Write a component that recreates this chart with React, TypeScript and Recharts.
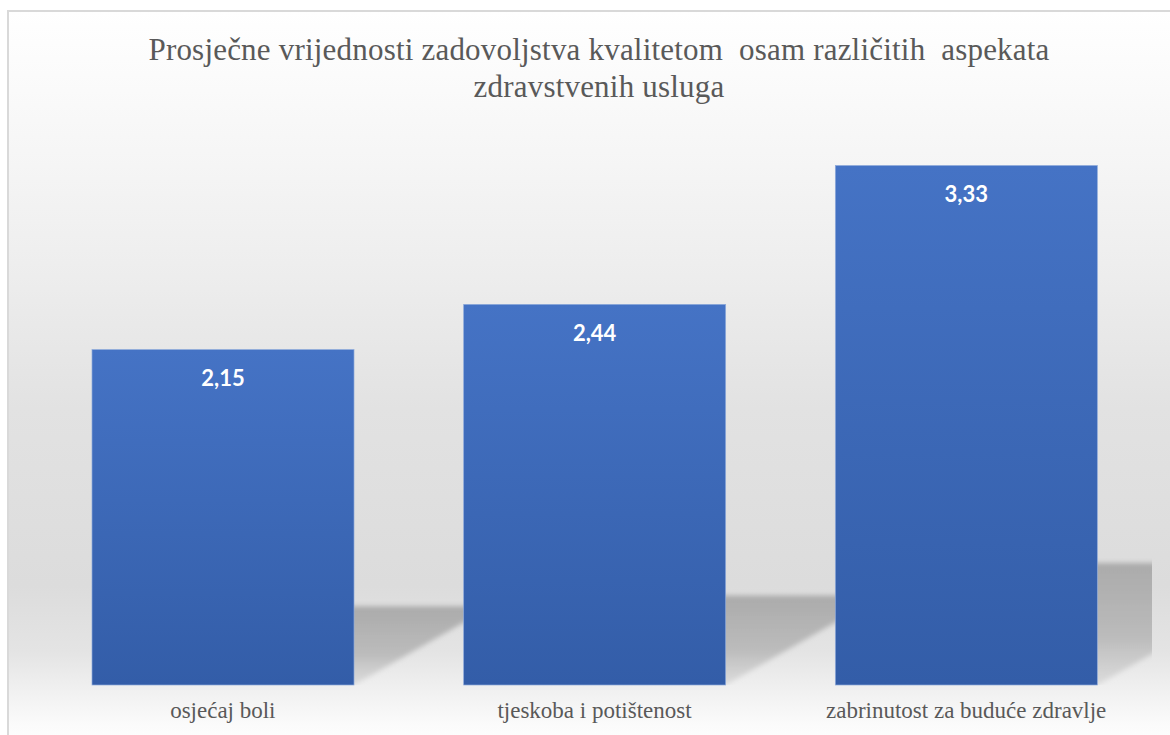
import React from 'react';
import { BarChart, Bar, XAxis, YAxis, LabelList } from 'recharts';

// Data
const categories = ['osjećaj boli', 'tjeskoba i potištenost', 'zabrinutost za buduće zdravlje'];
const values = [2.15, 2.44, 3.33];
const titleLines = ['Prosječne vrijednosti zadovoljstva kvalitetom  osam različitih  aspekata', 'zdravstvenih usluga'];

const data = categories.map((name, i) => ({ name, value: values[i] }));

const W = 1170;
const H = 735;
const MARGIN = { top: 139, right: 18, bottom: 20, left: 37 };
const SERIF = '"Liberation Serif", Tinos, "Times New Roman", Times, "Noto Serif", "DejaVu Serif", FreeSerif, serif';

// bar with a soft "floor" shadow falling to the right
const ShadowBar = (props: any) => {
  const { x, y, width, height } = props;
  const base = y + height;
  const dy = height * 0.235;
  const dx = dy / 0.57;
  const pts = [
    [x, base],
    [x + width, base],
    [x + width + dx, base - dy],
    [x + dx, base - dy],
  ].map((p) => p.join(',')).join(' ');
  return (
    <g>
      <g clipPath="url(#plotClip)">
        <polygon points={pts} fill="url(#shadowGrad)" filter="url(#blurShadow)" />
      </g>
      <rect x={x} y={y} width={width} height={height} fill="url(#barGrad)" stroke="#8eaadb" strokeWidth={0.7} />
    </g>
  );
};

const AxisTick = (props: any) => {
  const { x, y, payload } = props;
  return (
    <text x={x} y={y} dy={25} textAnchor="middle" fill="#595959" style={{ fontFamily: SERIF, fontSize: 23 }}>
      {payload.value}
    </text>
  );
};

export default function App() {
  return (
    <div style={{ position: 'absolute', left: 0, top: 0, width: W, height: H, overflow: 'hidden', background: '#fff' }}>
      <div style={{
        position: 'absolute', left: 7, top: 10, width: W, height: H,
        borderLeft: '2px solid #d9d9d9', borderTop: '2px solid #d9d9d9',
        background: 'linear-gradient(to bottom, #ffffff 0%, #f6f6f6 19%, #ededed 36%, #e2e2e2 54%, #dcdcdc 78%, #e4e4e4 87%, #f2f2f2 93%, #fbfbfb 97%, #fefefe 100%)',
      }} />
      <div style={{
        position: 'absolute', left: 28, top: 31, width: 1142, textAlign: 'center',
        fontFamily: SERIF, fontSize: 31, lineHeight: '37px', letterSpacing: 0.2,
        color: '#595959', whiteSpace: 'pre',
      }}>
        {titleLines.map((t, i) => <div key={i}>{t}</div>)}
      </div>
      <div style={{ position: 'absolute', left: 0, top: 0 }}>
        <BarChart width={W} height={H} data={data} margin={MARGIN} barSize={262}>
          <defs>
            <linearGradient id="barGrad" x1="0" y1="0" x2="0" y2="1">
              <stop offset="0%" stopColor="#4573c5" />
              <stop offset="100%" stopColor="#335da8" />
            </linearGradient>
            <linearGradient id="shadowGrad" x1="0" y1="0" x2="0" y2="1">
              <stop offset="0%" stopColor="#a8a8a8" stopOpacity={0.95} />
              <stop offset="60%" stopColor="#b4b4b4" stopOpacity={0.85} />
              <stop offset="100%" stopColor="#cfcfcf" stopOpacity={0.6} />
            </linearGradient>
            <filter id="blurShadow" x="-20%" y="-20%" width="140%" height="140%">
              <feGaussianBlur stdDeviation="2.5" />
            </filter>
            <clipPath id="plotClip">
              <rect x={MARGIN.left} y={0} width={W - MARGIN.left - MARGIN.right} height={H - MARGIN.bottom - 30} />
            </clipPath>
          </defs>
          <XAxis dataKey="name" height={30} axisLine={false} tickLine={false} tick={<AxisTick />} interval={0} />
          <YAxis hide domain={[0, 3.5]} />
          <Bar dataKey="value" shape={<ShadowBar />} isAnimationActive={false}>
            <LabelList
              dataKey="value"
              position="insideTop"
              offset={21}
              formatter={(v: any) => Number(v).toFixed(2).replace('.', ',')}
              fill="#ffffff"
              fontFamily="Lato, Open Sans, sans-serif"
              fontWeight={700}
              fontSize={22}
            />
          </Bar>
        </BarChart>
      </div>
    </div>
  );
}
